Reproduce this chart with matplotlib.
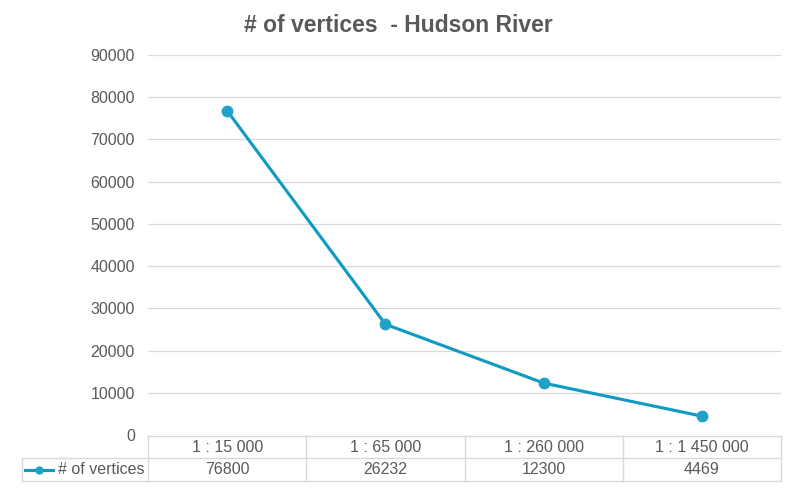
import matplotlib
matplotlib.use("Agg")
import matplotlib.pyplot as plt
from matplotlib.lines import Line2D

plt.rcParams['font.family'] = ['Liberation Sans', 'DejaVu Sans']

categories = ["1 : 15 000", "1 : 65 000", "1 : 260 000", "1 : 1 450 000"]
values = [76800, 26232, 12300, 4469]
series_name = "# of vertices"
title = "# of vertices  - Hudson River"
yticks = [0, 10000, 20000, 30000, 40000, 50000, 60000, 70000, 80000, 90000]

W, H = 797, 488
fig = plt.figure(figsize=(W / 100, H / 100), dpi=100)
L, R, T, B = 148, 781, 55, 435
ax = fig.add_axes([L / W, 1 - B / H, (R - L) / W, (B - T) / H])

color = '#129BC2'
mcolor = '#1FA2C8'
text_c = '#595959'
grid_c = '#D9D9D9'
fs = 11.5

x = list(range(len(categories)))
ax.plot(x, values, color=color, lw=2.25, marker='o', ms=7.5, mfc=mcolor, mec=mcolor, zorder=3)
ax.set_xlim(-0.5, len(categories) - 0.5)
ax.set_ylim(0, 90000)
ax.set_yticks(yticks)
ax.set_yticklabels([str(v) for v in yticks], color=text_c, fontsize=fs)
ax.tick_params(axis='y', length=0, pad=9.5)
ax.set_xticks([])
ax.grid(axis='y', color=grid_c, lw=0.9)
ax.set_axisbelow(True)
for s in ax.spines.values():
    s.set_visible(False)

fig.text(0.5, 1 - 25 / H, title, ha='center', va='center', fontsize=16.5,
         fontweight='bold', color=text_c)

# data table
def fy(py):
    return 1 - py / H

def fx(px):
    return px / W

r0, r1, r2 = 436, 458, 481
tbl_lines = []
tbl_lines.append(Line2D([fx(L), fx(R)], [fy(r0), fy(r0)]))
tbl_lines.append(Line2D([fx(22), fx(R)], [fy(r1), fy(r1)]))
tbl_lines.append(Line2D([fx(22), fx(R)], [fy(r2), fy(r2)]))
tbl_lines.append(Line2D([fx(22), fx(22)], [fy(r1), fy(r2)]))
n = len(categories)
for i in range(n + 1):
    px = L + (R - L) * i / n
    tbl_lines.append(Line2D([fx(px), fx(px)], [fy(r0), fy(r2)]))
for ln in tbl_lines:
    ln.set_color(grid_c)
    ln.set_linewidth(1.0)
    fig.add_artist(ln)

for i, (c, v) in enumerate(zip(categories, values)):
    cx = L + (R - L) * (i + 0.5) / n
    fig.text(fx(cx), fy((r0 + r1) / 2), c, ha='center', va='center', fontsize=fs, color=text_c)
    fig.text(fx(cx), fy((r1 + r2) / 2), str(v), ha='center', va='center', fontsize=fs, color=text_c)

ym = fy((r1 + r2) / 2)
key = Line2D([fx(25), fx(53)], [ym, ym], color=color, lw=2.25)
fig.add_artist(key)
dot = Line2D([fx(39)], [ym], color=mcolor, marker='o', ms=5, lw=0)
fig.add_artist(dot)
fig.text(fx(58), ym, series_name, ha='left', va='center', fontsize=fs, color=text_c)

fig.savefig('out.png', dpi=100)
